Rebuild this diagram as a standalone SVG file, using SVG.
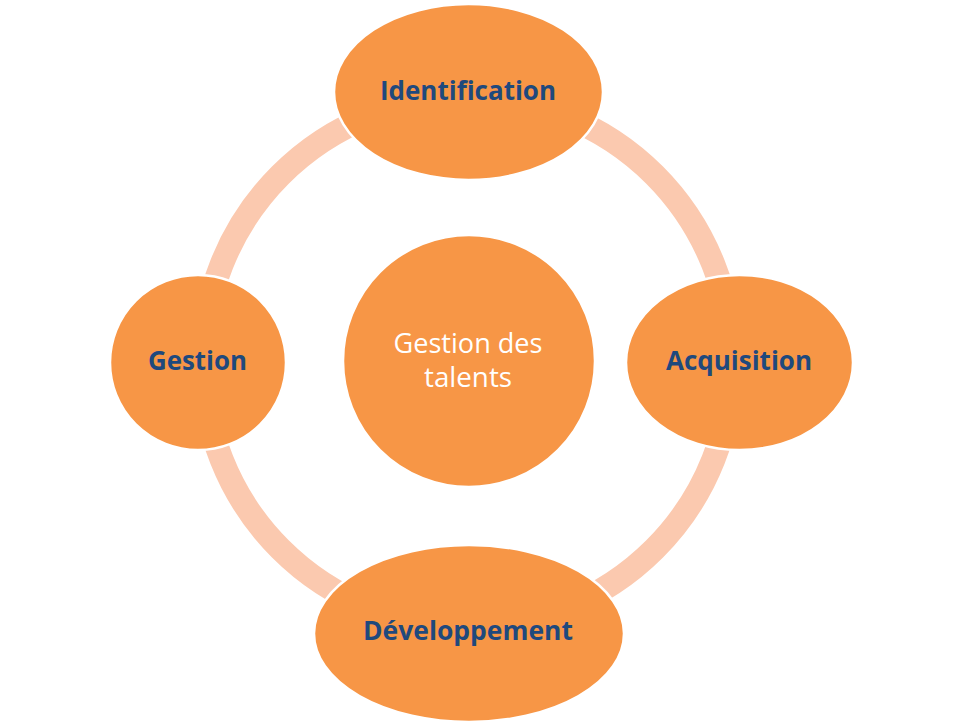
<svg xmlns="http://www.w3.org/2000/svg" width="962" height="725" viewBox="0 0 962 725">
  <style>
    .node { fill: #F79646; stroke: #FFFFFF; stroke-width: 2.5; }
    .lbl { font-family: "Open Sans", "Liberation Sans", sans-serif; font-weight: bold; font-size: 27.5px; fill: #1F497D; text-anchor: middle; }
    .ctr { font-family: "Open Sans", "Liberation Sans", sans-serif; font-size: 26.5px; fill: #FFFFFF; text-anchor: middle; }
  </style>
  <rect width="962" height="725" fill="#FFFFFF"/>
  <g id="connectors">
    <circle cx="467.5" cy="362" r="264.5" fill="none" stroke="#FBC9AF" stroke-width="24"/>
  </g>
  <g id="center">
    <circle class="node" cx="469" cy="361" r="126"/>
    <text class="ctr" x="468" y="353" textLength="149" lengthAdjust="spacingAndGlyphs">Gestion des</text>
    <text class="ctr" x="468" y="387" textLength="88" lengthAdjust="spacingAndGlyphs">talents</text>
  </g>
  <g id="identification">
    <ellipse class="node" cx="468.5" cy="92" rx="134.5" ry="88"/>
    <text class="lbl" x="468" y="100" textLength="176" lengthAdjust="spacingAndGlyphs">Identification</text>
  </g>
  <g id="acquisition">
    <ellipse class="node" cx="739.5" cy="362.5" rx="113.5" ry="87.5"/>
    <text class="lbl" x="739" y="370" textLength="146" lengthAdjust="spacingAndGlyphs">Acquisition</text>
  </g>
  <g id="developpement">
    <ellipse class="node" cx="469" cy="633.5" rx="155" ry="88.5"/>
    <text class="lbl" x="468" y="640" textLength="210" lengthAdjust="spacingAndGlyphs">Développement</text>
  </g>
  <g id="gestion">
    <ellipse class="node" cx="198" cy="362.5" rx="88" ry="87.5"/>
    <text class="lbl" x="197.5" y="370" textLength="99" lengthAdjust="spacingAndGlyphs">Gestion</text>
  </g>
</svg>
